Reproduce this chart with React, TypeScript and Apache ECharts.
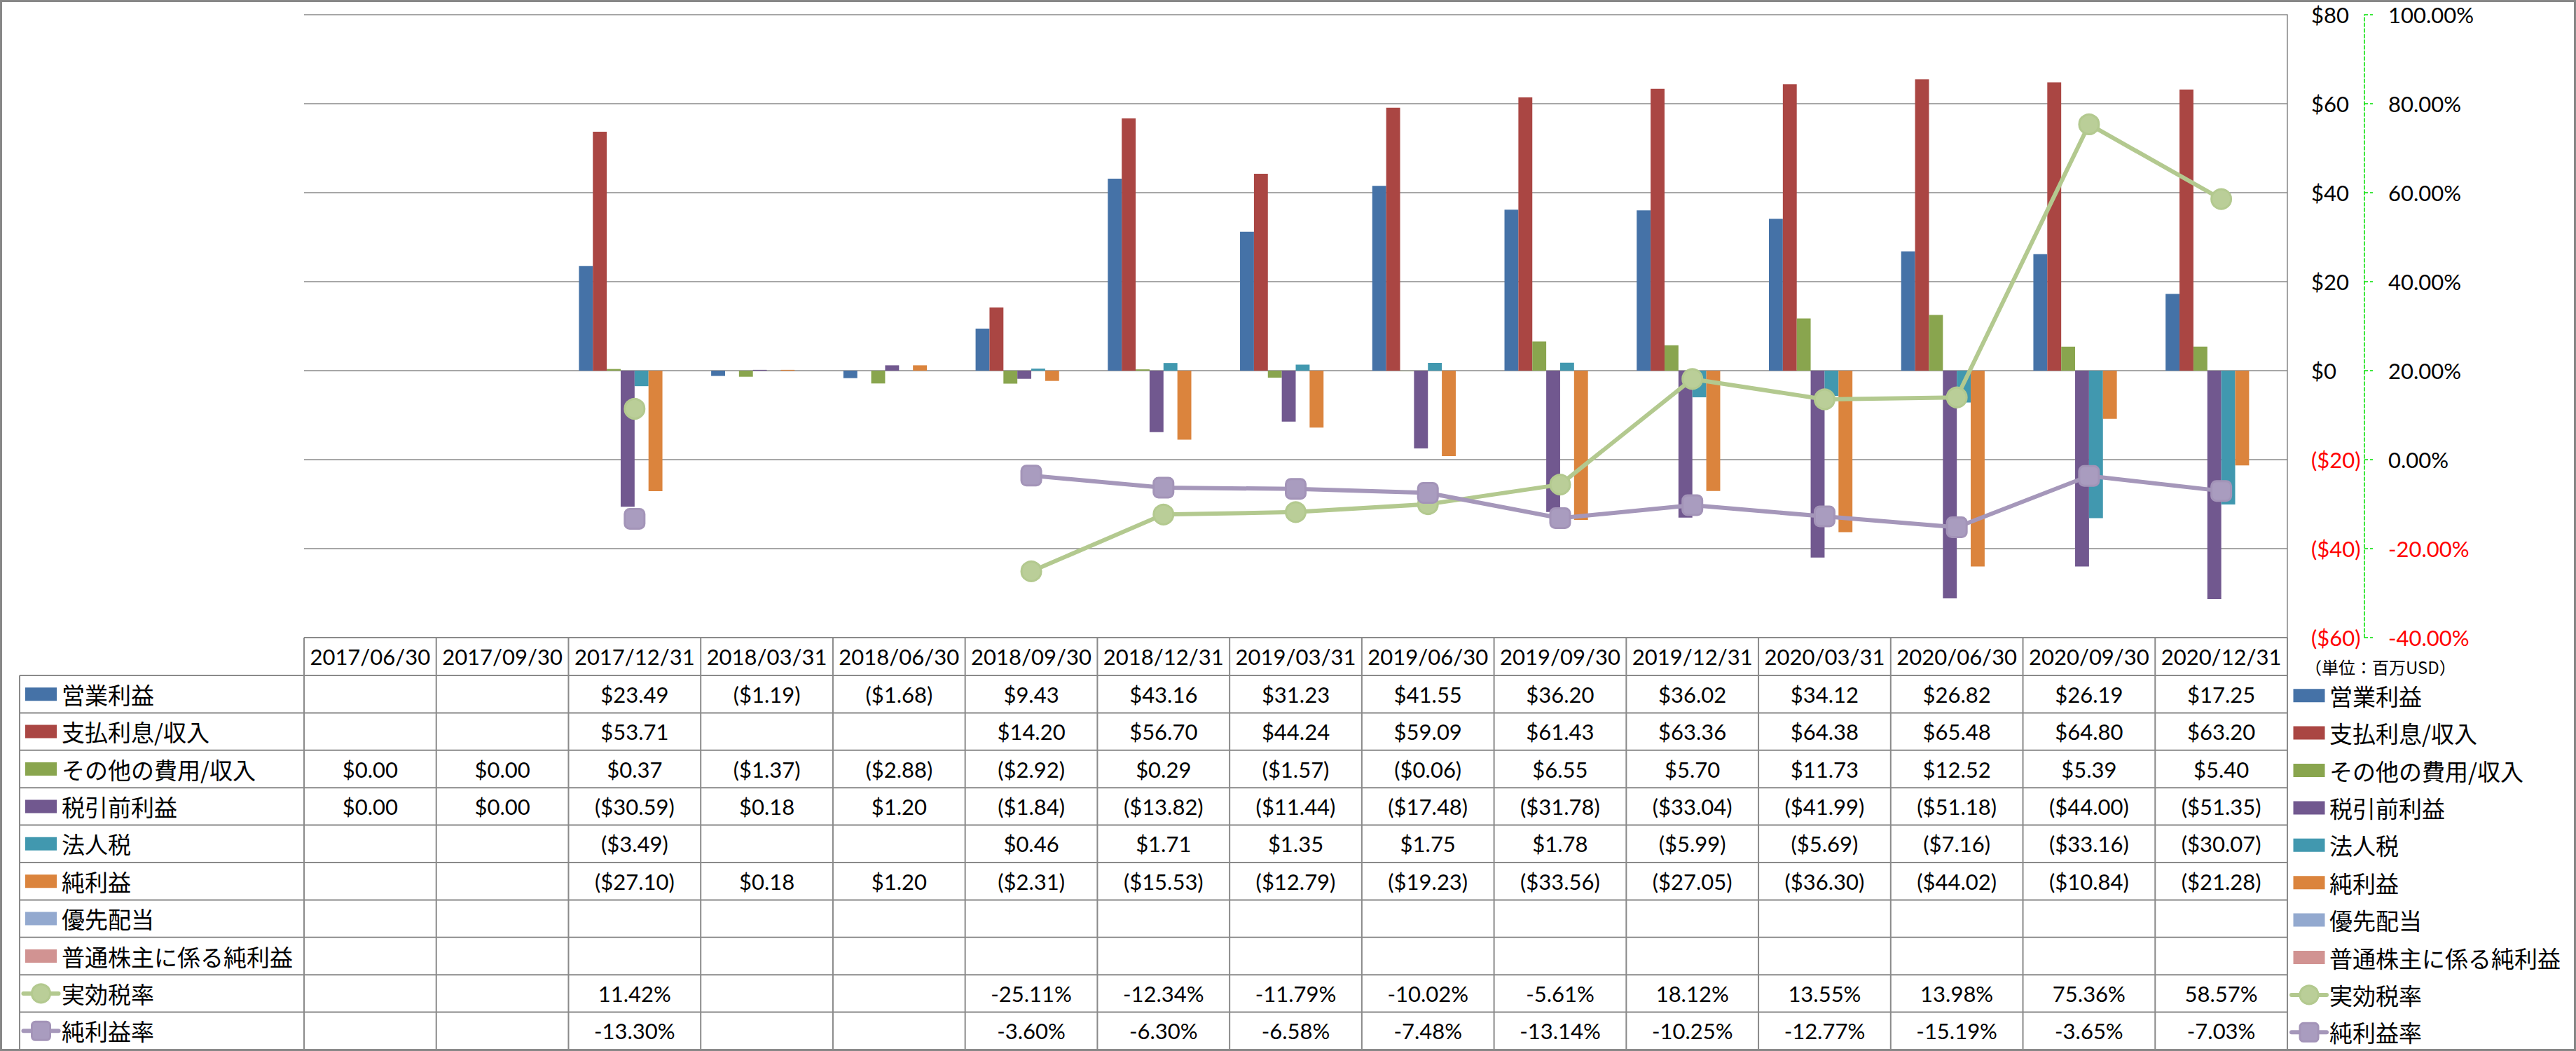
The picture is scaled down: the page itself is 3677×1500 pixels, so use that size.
import React, { useEffect, useRef } from 'react';
import * as echarts from 'echarts';

// ---------- data ----------
const categories = [
  '2017/06/30', '2017/09/30', '2017/12/31', '2018/03/31', '2018/06/30',
  '2018/09/30', '2018/12/31', '2019/03/31', '2019/06/30', '2019/09/30',
  '2019/12/31', '2020/03/31', '2020/06/30', '2020/09/30', '2020/12/31',
];
const operatingIncome = [null, null, 23.49, -1.19, -1.68, 9.43, 43.16, 31.23, 41.55, 36.2, 36.02, 34.12, 26.82, 26.19, 17.25];
const interestExpense = [null, null, 53.71, null, null, 14.2, 56.7, 44.24, 59.09, 61.43, 63.36, 64.38, 65.48, 64.8, 63.2];
const otherExpense = [0, 0, 0.37, -1.37, -2.88, -2.92, 0.29, -1.57, -0.06, 6.55, 5.7, 11.73, 12.52, 5.39, 5.4];
const preTaxIncome = [0, 0, -30.59, 0.18, 1.2, -1.84, -13.82, -11.44, -17.48, -31.78, -33.04, -41.99, -51.18, -44.0, -51.35];
const incomeTax = [null, null, -3.49, null, null, 0.46, 1.71, 1.35, 1.75, 1.78, -5.99, -5.69, -7.16, -33.16, -30.07];
const netIncome = [null, null, -27.1, 0.18, 1.2, -2.31, -15.53, -12.79, -19.23, -33.56, -27.05, -36.3, -44.02, -10.84, -21.28];
const preferredDividends = [null, null, null, null, null, null, null, null, null, null, null, null, null, null, null];
const netIncomeCommon = [null, null, null, null, null, null, null, null, null, null, null, null, null, null, null];
const effectiveTaxRate = [null, null, 11.42, null, null, -25.11, -12.34, -11.79, -10.02, -5.61, 18.12, 13.55, 13.98, 75.36, 58.57];
const netMargin = [null, null, -13.3, null, null, -3.6, -6.3, -6.58, -7.48, -13.14, -10.25, -12.77, -15.19, -3.65, -7.03];

const usdAxis = { min: -60, max: 80, interval: 20 };
const pctAxis = { min: -40, max: 100, interval: 20 };
const unitLabel = '（単位：百万USD）';

// ---------- styles ----------
const LATIN = 'Lato, "Noto Sans CJK JP", sans-serif';
const CJK = '"Noto Sans CJK JP", sans-serif';
const GRID_L = 434;
const GRID_R = 3265;
const GRID_T = 21;
const GRID_B = 910;
const COL_W = (GRID_R - GRID_L) / categories.length;
const HEAD_TOP = 910;
const ROW_TOP = 964;
const ROW_H = 53.4;
const LINE_C = '#8a8a8a';

type RowDef = {
  name: string;
  data: (number | null)[];
  kind: 'bar' | 'line';
  color: string;
  fmt: 'usd' | 'pct';
  symbol?: string;
  markerFill?: string;
  markerBorder?: string;
};

const rows: RowDef[] = [
  { name: '営業利益', data: operatingIncome, kind: 'bar', color: '#4572A7', fmt: 'usd' },
  { name: '支払利息/収入', data: interestExpense, kind: 'bar', color: '#AA4643', fmt: 'usd' },
  { name: 'その他の費用/収入', data: otherExpense, kind: 'bar', color: '#89A54E', fmt: 'usd' },
  { name: '税引前利益', data: preTaxIncome, kind: 'bar', color: '#71588F', fmt: 'usd' },
  { name: '法人税', data: incomeTax, kind: 'bar', color: '#4198AF', fmt: 'usd' },
  { name: '純利益', data: netIncome, kind: 'bar', color: '#DB843D', fmt: 'usd' },
  { name: '優先配当', data: preferredDividends, kind: 'bar', color: '#93A9CF', fmt: 'usd' },
  { name: '普通株主に係る純利益', data: netIncomeCommon, kind: 'bar', color: '#D19392', fmt: 'usd' },
  { name: '実効税率', data: effectiveTaxRate, kind: 'line', color: '#B3C98F', fmt: 'pct', symbol: 'circle', markerFill: '#BACE98', markerBorder: '#B3C98F' },
  { name: '純利益率', data: netMargin, kind: 'line', color: '#A597BA', fmt: 'pct', symbol: 'roundRect', markerFill: '#A99CBF', markerBorder: '#A394B8' },
];

function fmtUsd(v: number | null) {
  if (v === null || v === undefined) return '';
  return v < 0 ? `($${Math.abs(v).toFixed(2)})` : `$${v.toFixed(2)}`;
}
function fmtPct(v: number | null) {
  if (v === null || v === undefined) return '';
  return `${v.toFixed(2)}%`;
}

function legendIcon(r: RowDef, cx: number, cy: number): any[] {
  if (r.kind === 'bar') {
    return [{ type: 'rect', shape: { x: cx - 22.5, y: cy - 9.5, width: 45, height: 19 }, style: { fill: r.color } }];
  }
  const els: any[] = [
    { type: 'line', shape: { x1: cx - 25, y1: cy, x2: cx + 25, y2: cy }, style: { stroke: r.color, lineWidth: 6, lineCap: 'round' } },
  ];
  if (r.symbol === 'circle') {
    els.push({ type: 'circle', shape: { cx, cy, r: 13 }, style: { fill: r.markerFill, stroke: r.markerBorder, lineWidth: 3 } });
  } else {
    els.push({ type: 'rect', shape: { x: cx - 13, y: cy - 13, width: 26, height: 26, r: 5 }, style: { fill: r.markerFill, stroke: r.markerBorder, lineWidth: 3 } });
  }
  return els;
}

function txt(text: string, x: number, y: number, font: string, size: number, align: string, color = '#000') {
  return {
    type: 'text',
    x,
    y,
    style: {
      text,
      fill: color,
      fontSize: size,
      fontFamily: font,
      align,
      verticalAlign: 'middle',
      textAlign: align,
      textVerticalAlign: 'middle',
    },
  };
}

function buildGraphic() {
  const g: any[] = [];
  // outer border
  g.push({ type: 'rect', shape: { x: 1.5, y: 1.5, width: 3674, height: 1497 }, style: { fill: 'none', stroke: '#878787', lineWidth: 3 }, silent: true });
  const tableBottom = ROW_TOP + ROW_H * rows.length;
  // table horizontal lines
  g.push({ type: 'line', shape: { x1: GRID_L, y1: HEAD_TOP, x2: GRID_R, y2: HEAD_TOP }, style: { stroke: LINE_C, lineWidth: 2 } });
  for (let k = 0; k <= rows.length; k++) {
    const y = ROW_TOP + k * ROW_H;
    g.push({ type: 'line', shape: { x1: 28, y1: y, x2: GRID_R, y2: y }, style: { stroke: LINE_C, lineWidth: 2 } });
  }
  // vertical lines
  g.push({ type: 'line', shape: { x1: 28, y1: ROW_TOP, x2: 28, y2: tableBottom }, style: { stroke: LINE_C, lineWidth: 2 } });
  for (let i = 0; i <= categories.length; i++) {
    const x = GRID_L + i * COL_W;
    g.push({ type: 'line', shape: { x1: x, y1: HEAD_TOP, x2: x, y2: tableBottom }, style: { stroke: LINE_C, lineWidth: 2 } });
  }
  // header
  categories.forEach((c, i) => {
    g.push(txt(c, GRID_L + (i + 0.5) * COL_W, (HEAD_TOP + ROW_TOP) / 2, LATIN, 31, 'center'));
  });
  // rows
  rows.forEach((r, k) => {
    const cy = ROW_TOP + (k + 0.5) * ROW_H;
    // left legend cell
    g.push(...legendIcon(r, 58.5, cy));
    g.push(txt(r.name, 88, cy, CJK, 33, 'left'));
    r.data.forEach((v, i) => {
      const s = r.fmt === 'usd' ? fmtUsd(v) : fmtPct(v);
      if (s) g.push(txt(s, GRID_L + (i + 0.5) * COL_W, cy, LATIN, 31, 'center'));
    });
    // right legend
    g.push(...legendIcon(r, 3296, cy + 2));
    g.push(txt(r.name, 3325, cy + 2, CJK, 33, 'left'));
  });
  g.push(txt(unitLabel, 3290, 951, CJK, 24, 'left'));
  return g;
}

export default function App() {
  const ref = useRef<HTMLDivElement>(null);
  useEffect(() => {
    document.body.style.margin = '0';
    document.body.style.overflow = 'hidden';
    const chart = echarts.init(ref.current as HTMLDivElement, null, { renderer: 'svg' });
    const series: any[] = rows.map((r) => {
      if (r.kind === 'bar') {
        return {
          name: r.name,
          type: 'bar',
          yAxisIndex: 0,
          data: r.data,
          barGap: '0%',
          barCategoryGap: '15.8%',
          itemStyle: { color: r.color },
          z: 2,
        };
      }
      return {
        name: r.name,
        type: 'line',
        yAxisIndex: 1,
        data: r.data,
        connectNulls: false,
        showAllSymbol: true,
        symbol: r.symbol,
        symbolSize: 28,
        lineStyle: { color: r.color, width: 6 },
        itemStyle: { color: r.markerFill, borderColor: r.markerBorder, borderWidth: 3 },
        z: 5,
      };
    });
    chart.setOption({
      animation: false,
      backgroundColor: '#fff',
      grid: { left: GRID_L, top: GRID_T, width: GRID_R - GRID_L, height: GRID_B - GRID_T },
      xAxis: {
        type: 'category',
        data: categories,
        axisLine: { show: false },
        axisTick: { show: false },
        axisLabel: { show: false },
        splitLine: { show: false },
      },
      yAxis: [
        {
          type: 'value',
          position: 'right',
          min: usdAxis.min,
          max: usdAxis.max,
          interval: usdAxis.interval,
          axisLine: { show: true, lineStyle: { color: '#868686', width: 1.5 } },
          axisTick: { show: false },
          splitLine: { show: true, lineStyle: { color: '#8a8a8a', width: 1.5 } },
          axisLabel: {
            margin: 34,
            fontSize: 31,
            fontFamily: LATIN,
            align: 'left',
            color: (v: any) => (Number(v) < 0 ? '#FF0000' : '#000000'),
            formatter: (v: number) => (v < 0 ? `($${Math.abs(v)})` : `$${v}`),
          },
        },
        {
          type: 'value',
          position: 'right',
          offset: 110,
          min: pctAxis.min,
          max: pctAxis.max,
          interval: pctAxis.interval,
          axisLine: { show: true, lineStyle: { color: '#00E000', width: 1.5, type: [5, 3] } },
          axisTick: { show: true, inside: false, length: 12, lineStyle: { color: '#00E000', width: 1.5, type: [5, 3] } },
          splitLine: { show: false },
          axisLabel: {
            margin: 34,
            fontSize: 31,
            fontFamily: LATIN,
            align: 'left',
            color: (v: any) => (Number(v) < 0 ? '#FF0000' : '#000000'),
            formatter: (v: number) => `${v.toFixed(2)}%`,
          },
        },
      ],
      series,
      graphic: buildGraphic(),
    });
    return () => chart.dispose();
  }, []);
  return <div ref={ref} style={{ width: 3677, height: 1500 }} />;
}
